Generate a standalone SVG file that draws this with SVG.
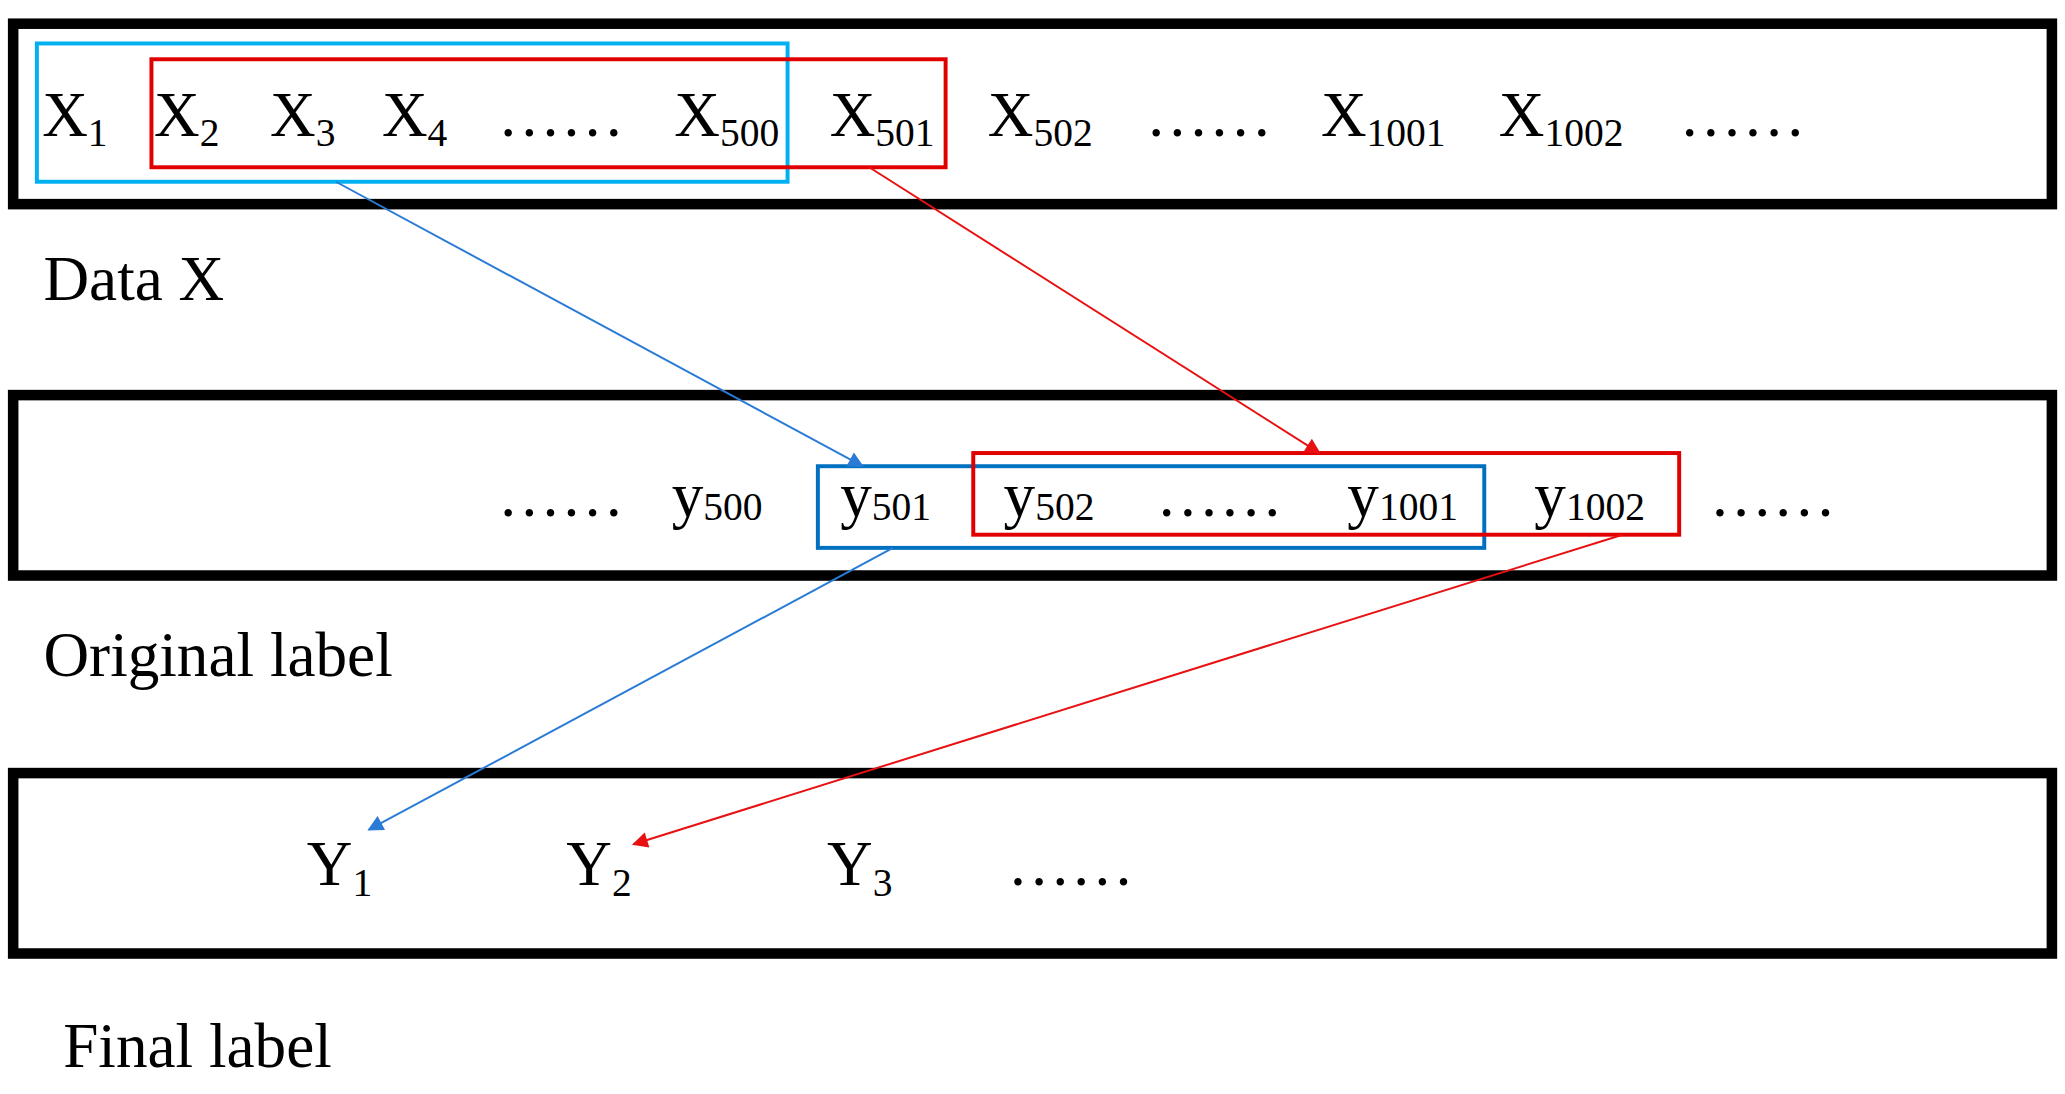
<svg xmlns="http://www.w3.org/2000/svg" width="2065" height="1094" viewBox="0 0 2065 1094">
<style>
.band{fill:none;stroke:#000;stroke-width:8}
.t{font-family:"Liberation Serif",serif;font-size:48px;fill:#000}
.s{font-family:"Liberation Serif",serif;font-size:30px}
.lab{font-family:"Liberation Serif",serif;font-size:48px;fill:#000}
.bl{stroke:#2a7bd6;stroke-width:1.5;fill:none}
.rd{stroke:#e81010;stroke-width:1.5;fill:none}
</style>
<defs>
<marker id="ab" viewBox="0 0 10 10" refX="9" refY="5" markerWidth="14" markerHeight="12" orient="auto" markerUnits="userSpaceOnUse"><path d="M0,0L10,5L0,10z" fill="#2a7bd6"/></marker>
<marker id="ar" viewBox="0 0 10 10" refX="9" refY="5" markerWidth="14" markerHeight="12" orient="auto" markerUnits="userSpaceOnUse"><path d="M0,0L10,5L0,10z" fill="#e81010"/></marker>
</defs>
<rect width="2065" height="1094" fill="#fff"/>
<g transform="scale(1.317)">
<g id="data">
<rect class="band" x="10" y="18" width="1548" height="137"/>
<rect x="28" y="33" width="570" height="105" fill="none" stroke="#00b0f0" stroke-width="3"/>
<rect x="115" y="45" width="603" height="82" fill="none" stroke="#e00000" stroke-width="3"/>
<text class="t" y="103"><tspan x="32">X</tspan><tspan class="s" dy="8">1</tspan><tspan x="117" dy="-8">X</tspan><tspan class="s" dy="8">2</tspan><tspan x="205" dy="-8">X</tspan><tspan class="s" dy="8">3</tspan><tspan x="290" dy="-8">X</tspan><tspan class="s" dy="8">4</tspan><tspan x="378" dy="-8">……</tspan><tspan x="512">X</tspan><tspan class="s" dy="8">500</tspan><tspan x="630" dy="-8">X</tspan><tspan class="s" dy="8">501</tspan><tspan x="750" dy="-8">X</tspan><tspan class="s" dy="8">502</tspan><tspan x="870" dy="-8">……</tspan><tspan x="1003">X</tspan><tspan class="s" dy="8">1001</tspan><tspan x="1138" dy="-8">X</tspan><tspan class="s" dy="8">1002</tspan><tspan x="1275" dy="-8">……</tspan></text>
<text class="lab" x="33" y="228">Data X</text>
</g>
<g id="original">
<rect class="band" x="10" y="300" width="1548" height="137"/>
<rect x="621" y="354" width="506" height="62" fill="none" stroke="#0070c0" stroke-width="3"/>
<rect x="739" y="344" width="536" height="62" fill="none" stroke="#e00000" stroke-width="3"/>
<text class="t" y="392"><tspan x="378">……</tspan><tspan x="510">y</tspan><tspan class="s" dy="3">500</tspan><tspan x="638" dy="-3">y</tspan><tspan class="s" dy="3">501</tspan><tspan x="762" dy="-3">y</tspan><tspan class="s" dy="3">502</tspan><tspan x="878" dy="-3">……</tspan><tspan x="1023">y</tspan><tspan class="s" dy="3">1001</tspan><tspan x="1165" dy="-3">y</tspan><tspan class="s" dy="3">1002</tspan><tspan x="1298" dy="-3">……</tspan></text>
<text class="lab" x="33" y="513">Original label</text>
</g>
<g id="final">
<rect class="band" x="10" y="587" width="1548" height="137"/>
<text class="t" y="672"><tspan x="233">Y</tspan><tspan class="s" dy="8">1</tspan><tspan x="430" dy="-8">Y</tspan><tspan class="s" dy="8">2</tspan><tspan x="628" dy="-8">Y</tspan><tspan class="s" dy="8">3</tspan><tspan x="765" dy="-8">……</tspan></text>
<text class="lab" x="48" y="810">Final label</text>
</g>
<g id="connectors">
<line class="bl" x1="255" y1="138" x2="655" y2="354" marker-end="url(#ab)"/>
<line class="rd" x1="660" y1="127" x2="1002" y2="344" marker-end="url(#ar)"/>
<line class="bl" x1="678" y1="416" x2="280" y2="630" marker-end="url(#ab)"/>
<line class="rd" x1="1232" y1="406" x2="481" y2="641" marker-end="url(#ar)"/>
</g>
</g>
</svg>
